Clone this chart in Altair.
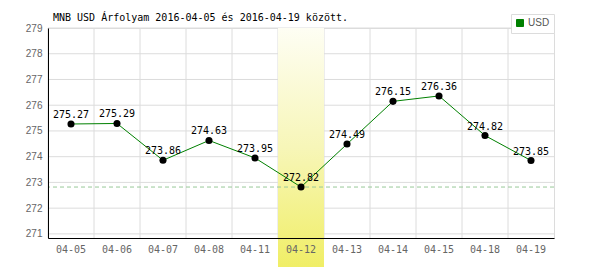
import altair as alt
import pandas as pd

# ---- data ----
dates = ["04-05", "04-06", "04-07", "04-08", "04-11", "04-12",
         "04-13", "04-14", "04-15", "04-18", "04-19"]
rates = [275.27, 275.29, 273.86, 274.63, 273.95, 272.82,
         274.49, 276.15, 276.36, 274.82, 273.85]
series_name = "USD"
highlight_date = "04-12"
y_ticks = [271, 272, 273, 274, 275, 276, 277, 278, 279]
y_domain = [270.84, 279]
title_text = "MNB USD Árfolyam 2016-04-05 és 2016-04-19 között."

df = pd.DataFrame({"date": dates, "rate": rates})
df["series"] = series_name
df["label"] = [f"{v:.2f}" for v in rates]
ticks_df = pd.DataFrame({"tick": y_ticks})

W, H = 506, 210
GRID = "#dcdcdc"

x_scale = alt.Scale(domain=dates, paddingInner=0, paddingOuter=0)
x_axis = alt.Axis(title=None, labelAngle=0, ticks=False, grid=False,
                  domainColor="black", domainWidth=1,
                  labelFont="DejaVu Sans Mono", labelFontSize=10, labelColor="#666666",
                  labelPadding=6, labelOverlap=False, zindex=1)
x_enc = alt.X("date:N", sort=dates, scale=x_scale, axis=x_axis)

y_scale = alt.Scale(domain=y_domain, nice=False, zero=False)
y_axis = alt.Axis(title=None, values=y_ticks, format="d", ticks=False, grid=False,
                  domainColor="black", domainWidth=1,
                  labelFont="Liberation Sans", labelFontSize=10, labelColor="#666666",
                  labelPadding=6, labelOverlap=False, labelFlush=False, zindex=1)
y_enc = alt.Y("rate:Q", scale=y_scale, axis=y_axis)

base = alt.Chart(df)

# grid lines (drawn below the highlight band)
h_grid = alt.Chart(ticks_df).mark_rule(color=GRID, strokeWidth=1).encode(
    y=alt.Y("tick:Q", scale=y_scale, axis=y_axis)
)
v_grid = base.mark_rule(color=GRID, strokeWidth=1).encode(
    x=alt.X("date:N", sort=dates, scale=x_scale, axis=x_axis, bandPosition=0)
)

band = base.transform_filter(alt.datum.date == highlight_date).mark_rect(
    color=alt.Gradient(
        gradient="linear",
        stops=[alt.GradientStop(color="#fefef4", offset=0),
               alt.GradientStop(color="#f7f6b8", offset=0.5),
               alt.GradientStop(color="#f0ee66", offset=1)],
        x1=0, x2=0, y1=0, y2=1,
    )
).encode(x=x_enc, y=alt.value(0), y2=alt.value(H + 29))

min_rule = base.mark_rule(color="#98c898", strokeDash=[4, 3], strokeWidth=1).encode(
    y=alt.Y("min(rate):Q", scale=y_scale, axis=y_axis)
)

line = base.mark_line(strokeWidth=1).encode(
    x=x_enc, y=y_enc,
    color=alt.Color(
        "series:N", scale=alt.Scale(range=["#008000"]),
        legend=alt.Legend(title=None, orient="none", legendX=463, legendY=-14,
                          symbolType="square", symbolSize=49,
                          symbolFillColor="#008000", symbolStrokeColor="#444444",
                          symbolStrokeWidth=1,
                          labelFont="Liberation Sans", labelFontSize=10,
                          labelColor="#555555", labelOffset=3,
                          strokeColor=GRID, fillColor="white", padding=4),
    ),
)

points = base.mark_circle(color="black", size=50, opacity=1).encode(x=x_enc, y=y_enc)

labels = base.mark_text(font="DejaVu Sans Mono", fontSize=10, color="black",
                        baseline="alphabetic", dy=-6).encode(
    x=x_enc, y=y_enc, text="label:N"
)

chart = alt.layer(h_grid, v_grid, band, min_rule, line, points, labels).properties(
    width=W, height=H,
    title=alt.Title(title_text, anchor="start", frame="group", dx=5, dy=9, offset=0,
                    font="DejaVu Sans Mono", fontSize=10, fontWeight="normal",
                    color="black"),
    padding={"left": 48, "top": 28, "right": 46, "bottom": 32},
    autosize="none",
    background="white",
).configure_view(stroke=GRID, strokeWidth=1)

chart.save("out.html", embed_options={"renderer": "svg", "actions": False})
